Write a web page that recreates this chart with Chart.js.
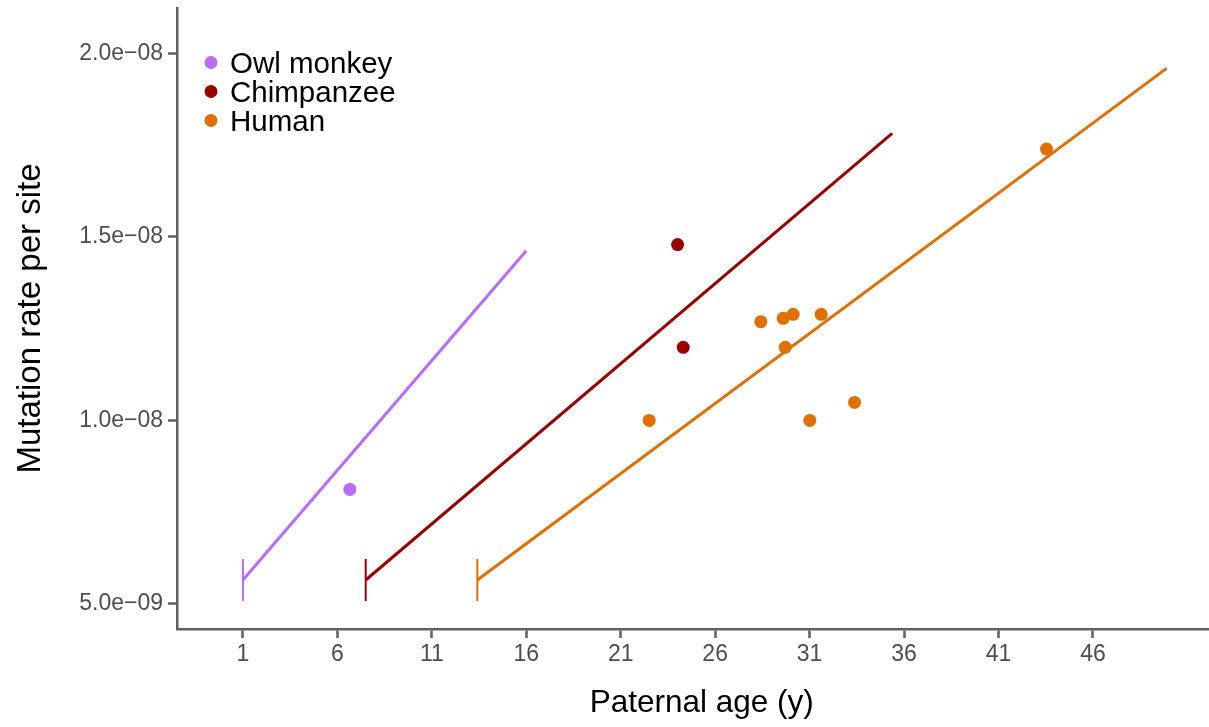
<!DOCTYPE html>
<html>
<head>
<meta charset="utf-8">
<title>Mutation rate vs paternal age</title>
<script src="https://cdn.jsdelivr.net/npm/chart.js@4"></script>
<style>
  html, body { margin: 0; padding: 0; background: #fff; overflow: hidden; }
  #wrap { width: 1209px; height: 727px; overflow: hidden; }
</style>
</head>
<body>
<div id="wrap"><canvas id="chart" width="1233" height="727"></canvas></div>
<script>
// species + colours
var species = ['Owl monkey', 'Chimpanzee', 'Human'];
var colors = ['#b56cff', '#990000', '#df7000'];

// observed trios (paternal age, mutation rate per site)
var owlAge = [6.66];
var owlRate = [8.12e-9];
var chimpAge = [24.01, 24.31];
var chimpRate = [1.479e-8, 1.199e-8];
var humanAge = [22.51, 28.42, 29.60, 30.13, 29.71, 31.61, 31.01, 33.38, 43.54];
var humanRate = [1.0e-8, 1.269e-8, 1.278e-8, 1.289e-8, 1.199e-8, 1.289e-8, 1.0e-8, 1.049e-8, 1.739e-8];

// fitted lines (start, end)
var owlFitAge = [1, 16.0];
var owlFitRate = [5.654e-9, 1.462e-8];
var chimpFitAge = [7.5, 35.37];
var chimpFitRate = [5.654e-9, 1.782e-8];
var humanFitAge = [13.41, 49.9];
var humanFitRate = [5.654e-9, 1.959e-8];

// puberty marks
var pubertyAge = [1, 7.5, 13.41];
var pubertyLow = [5.082e-9, 5.082e-9, 5.082e-9];
var pubertyHigh = [6.226e-9, 6.226e-9, 6.226e-9];

// axes
var xTicks = [1, 6, 11, 16, 21, 26, 31, 36, 41, 46];
var yTicks = [5e-9, 1e-8, 1.5e-8, 2e-8];
var yTickLabels = ['5.0e\u221209', '1.0e\u221208', '1.5e\u221208', '2.0e\u221208'];

var FONT = "'Liberation Sans', Arial, sans-serif";

function pts(xs, ys) {
	return xs.map(function(x, i){ return {x: x, y: ys[i]}; });
}

function noPad(s) {
	s.paddingTop = 0;
	s.paddingBottom = 0;
	s.paddingLeft = 0;
	s.paddingRight = 0;
}

var datasets = [];
var fits = [[owlFitAge, owlFitRate], [chimpFitAge, chimpFitRate], [humanFitAge, humanFitRate]];
fits.forEach(function(f, i){
	datasets.push({
		label: species[i] + ' fit',
		data: pts(f[0], f[1]),
		showLine: true,
		borderColor: colors[i],
		borderWidth: 3,
		pointRadius: 0,
		pointHoverRadius: 0
	});
	datasets.push({
		label: species[i] + ' puberty',
		data: [{x: pubertyAge[i], y: pubertyLow[i]}, {x: pubertyAge[i], y: pubertyHigh[i]}],
		showLine: true,
		borderColor: colors[i],
		borderWidth: 2,
		pointRadius: 0,
		pointHoverRadius: 0
	});
});
var obs = [[owlAge, owlRate], [chimpAge, chimpRate], [humanAge, humanRate]];
obs.forEach(function(o, i){
	datasets.push({
		label: species[i],
		data: pts(o[0], o[1]),
		showLine: false,
		pointRadius: 6.5,
		pointBorderWidth: 0,
		pointBackgroundColor: colors[i],
		pointBorderColor: colors[i]
	});
});

// legend drawn top-left inside the panel
var legendPlugin = {
	id: 'speciesLegend',
	afterDraw: function(chart){
		var ctx = chart.ctx;
		ctx.save();
		ctx.font = '29.5px ' + FONT;
		ctx.textBaseline = 'alphabetic';
		ctx.textAlign = 'left';
		for (var i = 0; i < species.length; i++) {
			var cy = 62.5 + i * 29;
			ctx.fillStyle = colors[i];
			ctx.beginPath();
			ctx.arc(211, cy, 6.5, 0, Math.PI * 2);
			ctx.fill();
			ctx.fillStyle = '#000';
			ctx.fillText(species[i], 230, cy + 10.5);
		}
		ctx.restore();
	}
};

var ctx = document.getElementById('chart').getContext('2d');
var myChart = new Chart(ctx, {
	type: 'scatter',
	data: { datasets: datasets },
	options: {
		responsive: false,
		devicePixelRatio: 1,
		animation: false,
		layout: { padding: { top: 8, left: 0, right: 0, bottom: 0 } },
		plugins: {
			legend: { display: false },
			tooltip: { enabled: false }
		},
		scales: {
			x: {
				type: 'linear',
				min: -2.49,
				max: 53.07,
				afterBuildTicks: function(s){ s.ticks = xTicks.map(function(v){ return {value: v}; }); },
				afterFit: function(s){ s.height = 98; noPad(s); },
				ticks: {
					color: '#4d4d4d',
					font: { family: FONT, size: 23 },
					padding: 3,
					maxRotation: 0,
					callback: function(v){ return String(v); }
				},
				grid: { display: true, drawOnChartArea: false, drawTicks: true, tickLength: 9, tickColor: '#5f5f5f', tickWidth: 2.5 },
				border: { display: true, color: '#5f5f5f', width: 2.5 },
				title: {
					display: true,
					text: 'Paternal age (y)',
					color: '#000',
					font: { family: FONT, size: 31.5 },
					padding: { top: 0, bottom: 5 }
				}
			},
			y: {
				type: 'linear',
				min: 4.319e-9,
				max: 2.1234e-8,
				afterBuildTicks: function(s){ s.ticks = yTicks.map(function(v){ return {value: v}; }); },
				afterFit: function(s){ s.width = 177; noPad(s); },
				ticks: {
					color: '#4d4d4d',
					font: { family: FONT, size: 23 },
					padding: 5,
					callback: function(v){
						var k = yTicks.indexOf(v);
						return k >= 0 ? yTickLabels[k] : '';
					}
				},
				grid: { display: true, drawOnChartArea: false, drawTicks: true, tickLength: 9, tickColor: '#5f5f5f', tickWidth: 2.5 },
				border: { display: true, color: '#5f5f5f', width: 2.5 },
				title: {
					display: true,
					text: 'Mutation rate per site',
					color: '#000',
					font: { family: FONT, size: 33 },
					padding: { top: 11, bottom: 0 }
				}
			}
		}
	},
	plugins: [legendPlugin]
});
</script>
</body>
</html>
